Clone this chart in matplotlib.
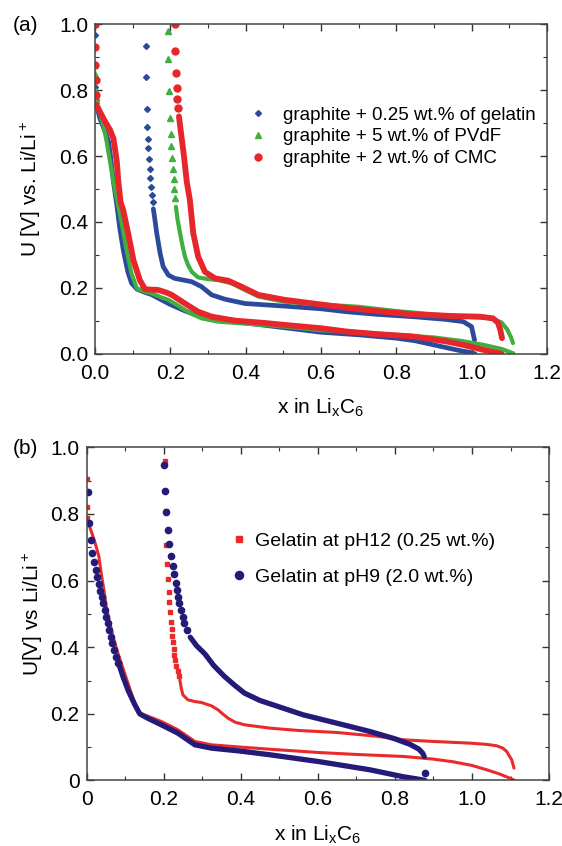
import matplotlib
matplotlib.use("Agg")
import matplotlib.pyplot as plt
from matplotlib.ticker import MultipleLocator

plt.rcParams['font.family'] = ['Liberation Sans', 'DejaVu Sans']
plt.rcParams['mathtext.default'] = 'regular'

# ---------------- panel (a) ----------------
# graphite + 0.25 wt.% of gelatin (blue)
gel_lo_x = [0.004, 0.013, 0.027, 0.036, 0.042, 0.049, 0.058, 0.066, 0.076, 0.087, 0.097, 0.111, 0.13, 0.15,
            0.175, 0.2, 0.24, 0.28, 0.33, 0.4, 0.5, 0.6, 0.7, 0.8, 0.85, 0.93, 0.97, 1.0, 1.01]
gel_lo_y = [0.755, 0.714, 0.674, 0.644, 0.593, 0.522, 0.452, 0.38, 0.31, 0.25, 0.215, 0.197, 0.188, 0.18,
            0.165, 0.15, 0.13, 0.113, 0.102, 0.094, 0.08, 0.066, 0.058, 0.048, 0.04, 0.02, 0.01, 0.004, 0.0]
gel_hi_x = [0.155, 0.16, 0.164, 0.173, 0.181, 0.195, 0.212, 0.235, 0.257, 0.283, 0.31, 0.345, 0.398, 0.45,
            0.504, 0.6, 0.668, 0.75, 0.845, 0.93, 0.978, 1.0, 1.008]
gel_hi_y = [0.44, 0.4, 0.366, 0.305, 0.265, 0.239, 0.229, 0.224, 0.219, 0.204, 0.179, 0.166, 0.153, 0.149,
            0.145, 0.137, 0.128, 0.12, 0.113, 0.105, 0.098, 0.083, 0.042]
gel_dot_x = [0.0, 0.0, 0.002, 0.135, 0.136, 0.138, 0.139, 0.14, 0.142, 0.143, 0.145, 0.147, 0.149, 0.151, 0.153]
gel_dot_y = [0.967, 0.81, 0.77, 0.933, 0.838, 0.743, 0.688, 0.653, 0.623, 0.591, 0.56, 0.532, 0.507, 0.482, 0.462]

# graphite + 5 wt.% of PVdF (green)
pvdf_lo_x = [0.003, 0.009, 0.022, 0.031, 0.04, 0.049, 0.06, 0.071, 0.084, 0.097, 0.111, 0.13, 0.15, 0.175,
             0.195, 0.22, 0.239, 0.26, 0.283, 0.327, 0.4, 0.504, 0.6, 0.7, 0.8, 0.9, 0.97, 1.03, 1.08, 1.111]
pvdf_lo_y = [0.76, 0.745, 0.694, 0.644, 0.583, 0.522, 0.46, 0.396, 0.315, 0.244, 0.199, 0.19, 0.184, 0.172,
             0.164, 0.147, 0.133, 0.12, 0.108, 0.098, 0.092, 0.083, 0.072, 0.066, 0.058, 0.05, 0.04, 0.028,
             0.015, 0.002]
pvdf_hi_x = [0.215, 0.219, 0.226, 0.232, 0.239, 0.247, 0.257, 0.274, 0.3, 0.327, 0.363, 0.398, 0.434, 0.504,
             0.6, 0.7, 0.8, 0.9, 0.98, 1.04, 1.062, 1.08, 1.095, 1.105, 1.11]
pvdf_hi_y = [0.446, 0.41, 0.366, 0.33, 0.295, 0.27, 0.249, 0.232, 0.227, 0.224, 0.214, 0.194, 0.174, 0.158,
             0.15, 0.143, 0.13, 0.12, 0.113, 0.11, 0.104, 0.095, 0.074, 0.05, 0.033]
pvdf_dot_x = [0.0, 0.0, 0.0, 0.002, 0.193, 0.195, 0.197, 0.2, 0.201, 0.203, 0.205, 0.207, 0.209, 0.211, 0.213]
pvdf_dot_y = [1.0, 0.85, 0.8, 0.77, 0.98, 0.893, 0.797, 0.716, 0.668, 0.63, 0.594, 0.561, 0.529, 0.5, 0.473]

# graphite + 2 wt.% of CMC (red)
cmc_lo_x = [0.004, 0.013, 0.027, 0.04, 0.049, 0.053, 0.058, 0.062, 0.068, 0.075, 0.088, 0.102, 0.119, 0.133,
            0.15, 0.168, 0.19, 0.204, 0.22, 0.239, 0.257, 0.274, 0.31, 0.372, 0.45, 0.504, 0.6, 0.668, 0.75,
            0.845, 0.933, 0.98, 1.022, 1.05, 1.074, 1.08]
cmc_lo_y = [0.755, 0.734, 0.704, 0.679, 0.653, 0.623, 0.583, 0.522, 0.46, 0.436, 0.366, 0.285, 0.224, 0.196,
            0.195, 0.194, 0.186, 0.179, 0.167, 0.153, 0.14, 0.128, 0.113, 0.101, 0.094, 0.088, 0.078, 0.068,
            0.06, 0.053, 0.038, 0.027, 0.015, 0.008, 0.002, 0.0]
cmc_hi_x = [0.223, 0.228, 0.236, 0.244, 0.252, 0.261, 0.274, 0.292, 0.319, 0.354, 0.389, 0.434, 0.504, 0.6,
            0.668, 0.75, 0.845, 0.95, 1.022, 1.057, 1.07, 1.076, 1.081]
cmc_hi_y = [0.72, 0.674, 0.603, 0.52, 0.467, 0.366, 0.295, 0.249, 0.229, 0.222, 0.204, 0.179, 0.164, 0.15,
            0.14, 0.13, 0.12, 0.115, 0.113, 0.108, 0.095, 0.075, 0.048]
cmc_dot_x = [0.0, 0.0, 0.0, 0.002, 0.002, 0.212, 0.212, 0.215, 0.217, 0.219, 0.221]
cmc_dot_y = [1.0, 0.93, 0.876, 0.83, 0.785, 1.0, 0.918, 0.853, 0.807, 0.773, 0.745]

# ---------------- panel (b) ----------------
# Gelatin at pH12 (0.25 wt.%) (red)
ph12_lo_x = [0.008, 0.017, 0.025, 0.032, 0.038, 0.045, 0.051, 0.06, 0.069, 0.082, 0.095, 0.108, 0.125, 0.138,
             0.168, 0.194, 0.215, 0.237, 0.26, 0.281, 0.324, 0.4, 0.497, 0.6, 0.7, 0.822, 0.9, 0.951, 1.0,
             1.038, 1.07, 1.098, 1.111]
ph12_lo_y = [0.762, 0.732, 0.702, 0.672, 0.622, 0.572, 0.522, 0.475, 0.43, 0.38, 0.335, 0.29, 0.232, 0.202,
             0.189, 0.177, 0.165, 0.152, 0.134, 0.117, 0.107, 0.1, 0.092, 0.084, 0.078, 0.072, 0.064, 0.056,
             0.045, 0.032, 0.02, 0.007, 0.0]
ph12_hi_x = [0.242, 0.246, 0.25, 0.263, 0.28, 0.298, 0.324, 0.341, 0.355, 0.367, 0.385, 0.41, 0.476, 0.55,
             0.649, 0.75, 0.822, 0.9, 0.995, 1.04, 1.064, 1.08, 1.09, 1.103, 1.109]
ph12_hi_y = [0.302, 0.275, 0.257, 0.242, 0.237, 0.234, 0.224, 0.212, 0.198, 0.187, 0.175, 0.167, 0.157, 0.15,
             0.144, 0.133, 0.122, 0.117, 0.112, 0.108, 0.104, 0.097, 0.087, 0.062, 0.037]
ph12_dot_x = [0.0, 0.0, 0.002, 0.203, 0.205, 0.207, 0.209, 0.211, 0.213, 0.215, 0.217, 0.219, 0.221, 0.222,
              0.224, 0.226, 0.228, 0.23, 0.233, 0.236, 0.239]
ph12_dot_y = [0.904, 0.822, 0.787, 0.96, 0.81, 0.707, 0.649, 0.604, 0.567, 0.535, 0.505, 0.477, 0.455, 0.434,
              0.415, 0.395, 0.378, 0.362, 0.345, 0.33, 0.315]

# Gelatin at pH9 (2.0 wt.%) (navy)
ph9_lo_x = [0.085, 0.095, 0.108, 0.125, 0.138, 0.16, 0.194, 0.237, 0.281, 0.324, 0.4, 0.476, 0.606, 0.735,
            0.822, 0.86, 0.878]
ph9_lo_y = [0.345, 0.31, 0.27, 0.228, 0.2, 0.186, 0.167, 0.142, 0.107, 0.097, 0.088, 0.077, 0.056, 0.032,
            0.011, 0.004, 0.0]
ph9_hi_x = [0.269, 0.285, 0.307, 0.33, 0.358, 0.385, 0.41, 0.45, 0.497, 0.562, 0.649, 0.735, 0.8, 0.84, 0.862,
            0.872, 0.876]
ph9_hi_y = [0.43, 0.405, 0.38, 0.345, 0.312, 0.285, 0.262, 0.24, 0.222, 0.197, 0.172, 0.147, 0.125, 0.108,
            0.094, 0.082, 0.072]
ph9_dot_x = [0.004, 0.006, 0.011, 0.015, 0.019, 0.024, 0.028, 0.032, 0.036, 0.039, 0.043, 0.047, 0.051, 0.055,
             0.059, 0.063, 0.067, 0.072, 0.076, 0.081,
             0.201, 0.204, 0.207, 0.211, 0.215, 0.219, 0.224, 0.227, 0.231, 0.235, 0.238, 0.24, 0.245, 0.25,
             0.254, 0.26, 0.878]
ph9_dot_y = [0.865, 0.774, 0.722, 0.684, 0.657, 0.632, 0.612, 0.59, 0.57, 0.55, 0.532, 0.512, 0.492, 0.472,
             0.452, 0.432, 0.412, 0.392, 0.372, 0.352,
             0.947, 0.87, 0.807, 0.752, 0.709, 0.674, 0.644, 0.619, 0.594, 0.572, 0.552, 0.532, 0.512, 0.492,
             0.472, 0.452, 0.022]

blue = '#2c4a9c'
green = '#3fb040'
red = '#e6262b'
red_b = '#ea2a2a'
navy = '#241b78'

fig = plt.figure(figsize=(5.62, 8.46), dpi=100)
ax1 = fig.add_axes([0.169, 0.5816, 0.804, 0.39])
ax2 = fig.add_axes([0.154, 0.0775, 0.823, 0.3937])

# panel (a) curves
for lx, ly, hx, hy, dx, dy, c, m, ms, lw, lab in [
        (gel_lo_x, gel_lo_y, gel_hi_x, gel_hi_y, gel_dot_x, gel_dot_y, blue, 'D', 3, 3.4,
         'graphite + 0.25 wt.% of gelatin'),
        (pvdf_lo_x, pvdf_lo_y, pvdf_hi_x, pvdf_hi_y, pvdf_dot_x, pvdf_dot_y, green, '^', 4, 3.0,
         'graphite + 5 wt.% of PVdF'),
        (cmc_lo_x, cmc_lo_y, cmc_hi_x, cmc_hi_y, cmc_dot_x, cmc_dot_y, red, 'o', 5, 4.2,
         'graphite + 2 wt.% of CMC')]:
    ax1.plot(lx, ly, color=c, lw=lw, solid_capstyle='round', solid_joinstyle='round')
    ax1.plot(hx, hy, color=c, lw=lw, solid_capstyle='round', solid_joinstyle='round')
    ax1.plot(dx, dy, linestyle='none', marker=m, ms=ms, color=c, mec=c, label=lab)

# panel (b) curves
ax2.plot(ph12_lo_x, ph12_lo_y, color=red_b, lw=2.2, solid_capstyle='round')
ax2.plot(ph12_hi_x, ph12_hi_y, color=red_b, lw=2.2, solid_capstyle='round')
ax2.plot(ph12_dot_x, ph12_dot_y, linestyle='none', marker='s', ms=3, color=red_b, mec=red_b,
         label='Gelatin at pH12 (0.25 wt.%)')
ax2.plot(ph9_lo_x, ph9_lo_y, color=navy, lw=3.8, solid_capstyle='round')
ax2.plot(ph9_hi_x, ph9_hi_y, color=navy, lw=3.8, solid_capstyle='round')
ax2.plot(ph9_dot_x, ph9_dot_y, linestyle='none', marker='o', ms=4.5, color=navy, mec=navy,
         label='Gelatin at pH9 (2.0 wt.%)')

for ax in (ax1, ax2):
    ax.set_xlim(0, 1.2)
    ax.set_ylim(0, 1.0)
    ax.xaxis.set_major_locator(MultipleLocator(0.2))
    ax.xaxis.set_minor_locator(MultipleLocator(0.1))
    ax.yaxis.set_major_locator(MultipleLocator(0.2))
    ax.yaxis.set_minor_locator(MultipleLocator(0.1))
    ax.tick_params(which='both', direction='in', top=True, right=True, labelsize=15, color='#333333')
    ax.tick_params(which='major', length=5, width=1)
    ax.tick_params(which='minor', length=3, width=0.8)
    ax.tick_params(axis='x', which='major', pad=7)
    ax.tick_params(axis='y', which='major', pad=5)
    for s in ax.spines.values():
        s.set_color('#444444')
        s.set_linewidth(1.1)

ax1.set_xticks([0.0, 0.2, 0.4, 0.6, 0.8, 1.0, 1.2])
ax1.set_xticklabels(['0.0', '0.2', '0.4', '0.6', '0.8', '1.0', '1.2'])
ax1.set_yticks([0.0, 0.2, 0.4, 0.6, 0.8, 1.0])
ax1.set_yticklabels(['0.0', '0.2', '0.4', '0.6', '0.8', '1.0'])
ax2.set_xticks([0.0, 0.2, 0.4, 0.6, 0.8, 1.0, 1.2])
ax2.set_xticklabels(['0', '0.2', '0.4', '0.6', '0.8', '1.0', '1.2'])
ax2.set_yticks([0.0, 0.2, 0.4, 0.6, 0.8, 1.0])
ax2.set_yticklabels(['0', '0.2', '0.4', '0.6', '0.8', '1.0'])

ax1.set_xlabel('x in Li$_x$C$_6$', fontsize=15)
ax1.set_ylabel('U [V] vs. Li/Li$^+$', fontsize=15)
ax1.xaxis.set_label_coords(0.5, -0.13)
ax1.yaxis.set_label_coords(-0.115, 0.5)
ax2.set_xlabel('x in Li$_x$C$_6$', fontsize=15)
ax2.set_ylabel('U[V] vs Li/Li$^+$', fontsize=15)
ax2.xaxis.set_label_coords(0.5, -0.13)
ax2.yaxis.set_label_coords(-0.09, 0.5)

ax1.legend(loc='upper left', bbox_to_anchor=(0.345, 0.75), frameon=False, fontsize=13.5,
           handlelength=0.8, handletextpad=0.9, labelspacing=0.25, borderpad=0, borderaxespad=0,
           markerscale=1.0)
ax2.legend(loc='upper left', bbox_to_anchor=(0.317, 0.745), frameon=False, fontsize=14,
           handlelength=0.6, handletextpad=0.5, labelspacing=0.95, borderpad=0, borderaxespad=0,
           markerscale=1.3)

fig.text(0.022, 0.97, '(a)', fontsize=15, va='center', ha='left')
fig.text(0.022, 0.47, '(b)', fontsize=15, va='center', ha='left')

plt.savefig('out.png', dpi=100)
